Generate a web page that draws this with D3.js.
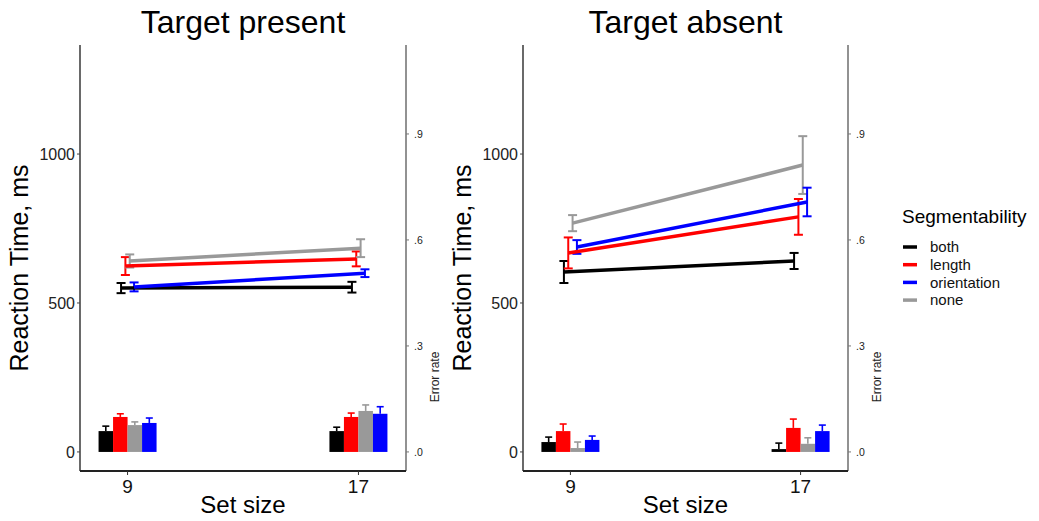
<!DOCTYPE html>
<html>
<head>
<meta charset="utf-8">
<script src="https://cdn.jsdelivr.net/npm/d3@7"></script>
<style>
  body { margin: 0; background: #fff; }
  text { font-family: "Liberation Sans", Arial, sans-serif; }
</style>
</head>
<body>
<div id="chart"></div>
<script>
"use strict";

// categories
var setSizes = ["9", "17"];
var groups = ["both", "length", "none", "orientation"];   // dodge order
var legendOrder = ["both", "length", "orientation", "none"];
var colors = { both: "#000000", length: "#ff0000", orientation: "#0000ff", none: "#999999" };

var rtTicks = [0, 500, 1000];
var errTicks = [0, 0.3, 0.6, 0.9];
var errTickLabels = [".0", ".3", ".6", ".9"];

// reaction time means and SE, [set 9, set 17]
var presentRT = { both: [550, 553], length: [624, 648], none: [641, 684], orientation: [554, 600] };
var presentRTse = { both: [17, 18], length: [30, 25], none: [22, 30], orientation: [15, 13] };
var absentRT = { both: [604, 641], length: [668, 789], none: [768, 963], orientation: [688, 839] };
var absentRTse = { both: [37, 27], length: [52, 60], none: [27, 97], orientation: [23, 48] };

// error rates and SE, [set 9, set 17]
var presentErr = { both: [0.059, 0.059], length: [0.099, 0.099], none: [0.076, 0.116], orientation: [0.082, 0.108] };
var presentErrSe = { both: [0.014, 0.011], length: [0.009, 0.011], none: [0.009, 0.017], orientation: [0.014, 0.020] };
var absentErr = { both: [0.028, 0.008], length: [0.059, 0.068], none: [0.011, 0.023], orientation: [0.034, 0.059] };
var absentErrSe = { both: [0.014, 0.017], length: [0.020, 0.025], none: [0.017, 0.017], orientation: [0.011, 0.017] };

var width = 1039, height = 521;
var svg = d3.select("#chart").append("svg")
    .attr("width", width)
    .attr("height", height);

var plotTop = 45, plotBottom = 471;
var rtDomain = [-64, 1366];
var errRatio = 1186;   // ms per unit of error rate on the secondary axis

function drawPanel(x0, x1, title, rt, rtSe, err, errSe) {
    var g = svg.append("g");

    var xScale = d3.scalePoint().domain(setSizes).range([x0, x1]).padding(0.206);
    var yScale = d3.scaleLinear().domain(rtDomain).range([plotBottom, plotTop]);
    var eScale = d3.scaleLinear().domain([rtDomain[0] / errRatio, rtDomain[1] / errRatio]).range([plotBottom, plotTop]);

    var barBand = d3.scaleBand().domain(groups).range([-29, 29]);
    var lineDodge = d3.scalePoint().domain(groups).range([-6.5, 6.5]);

    // bars for error rate
    setSizes.forEach(function (s, i) {
        groups.forEach(function (grp) {
            var bx = xScale(s) + barBand(grp);
            var bw = barBand.bandwidth();
            var v = err[grp][i], se = errSe[grp][i];
            var cx = bx + bw / 2;
            g.append("line")
                .attr("x1", cx).attr("x2", cx)
                .attr("y1", eScale(v)).attr("y2", eScale(v + se))
                .attr("stroke", colors[grp]).attr("stroke-width", 1.6);
            g.append("line")
                .attr("x1", cx - 3.5).attr("x2", cx + 3.5)
                .attr("y1", eScale(v + se)).attr("y2", eScale(v + se))
                .attr("stroke", colors[grp]).attr("stroke-width", 1.6);
            g.append("rect")
                .attr("x", bx).attr("width", bw)
                .attr("y", eScale(v)).attr("height", eScale(0) - eScale(v))
                .attr("fill", colors[grp]);
        });
    });

    // error bars for reaction time
    groups.forEach(function (grp) {
        setSizes.forEach(function (s, i) {
            var cx = xScale(s) + lineDodge(grp);
            var lo = yScale(rt[grp][i] - rtSe[grp][i]);
            var hi = yScale(rt[grp][i] + rtSe[grp][i]);
            g.append("line").attr("x1", cx).attr("x2", cx).attr("y1", lo).attr("y2", hi)
                .attr("stroke", colors[grp]).attr("stroke-width", 2);
            [lo, hi].forEach(function (yy) {
                g.append("line").attr("x1", cx - 4.5).attr("x2", cx + 4.5).attr("y1", yy).attr("y2", yy)
                    .attr("stroke", colors[grp]).attr("stroke-width", 2);
            });
        });
    });

    // lines
    var line = d3.line()
        .x(function (d) { return d.x; })
        .y(function (d) { return d.y; });
    groups.forEach(function (grp) {
        var pts = setSizes.map(function (s, i) {
            return { x: xScale(s) + lineDodge(grp), y: yScale(rt[grp][i]) };
        });
        g.append("path").datum(pts)
            .attr("d", line)
            .attr("fill", "none")
            .attr("stroke", colors[grp])
            .attr("stroke-width", 3.5);
    });

    // axes lines
    g.append("line").attr("x1", x0).attr("x2", x0).attr("y1", plotTop).attr("y2", plotBottom)
        .attr("stroke", "#444").attr("stroke-width", 1.6);
    g.append("line").attr("x1", x1).attr("x2", x1).attr("y1", plotTop).attr("y2", plotBottom)
        .attr("stroke", "#777").attr("stroke-width", 1.6);
    g.append("line").attr("x1", x0).attr("x2", x1).attr("y1", plotBottom).attr("y2", plotBottom)
        .attr("stroke", "#222").attr("stroke-width", 2);

    // left ticks
    rtTicks.forEach(function (t) {
        g.append("line").attr("x1", x0 - 3).attr("x2", x0).attr("y1", yScale(t)).attr("y2", yScale(t))
            .attr("stroke", "#444").attr("stroke-width", 1);
        g.append("text").attr("x", x0 - 5).attr("y", yScale(t)).attr("dy", "0.35em")
            .attr("text-anchor", "end").attr("font-size", 16).attr("fill", "#222").text(t);
    });

    // right ticks (error rate)
    errTicks.forEach(function (t, i) {
        g.append("line").attr("x1", x1).attr("x2", x1 + 3).attr("y1", eScale(t)).attr("y2", eScale(t))
            .attr("stroke", "#777").attr("stroke-width", 1);
        g.append("text").attr("x", x1 + 8).attr("y", eScale(t)).attr("dy", "0.35em")
            .attr("font-size", 10.5).attr("fill", "#222").text(errTickLabels[i]);
    });
    g.append("text")
        .attr("transform", "translate(" + (x1 + 33) + ",377) rotate(-90)")
        .attr("text-anchor", "middle").attr("font-size", 12).attr("fill", "#222")
        .text("Error rate");

    // x ticks
    setSizes.forEach(function (s) {
        g.append("line").attr("x1", xScale(s)).attr("x2", xScale(s)).attr("y1", plotBottom).attr("y2", plotBottom + 4)
            .attr("stroke", "#333").attr("stroke-width", 1);
        g.append("text").attr("x", xScale(s)).attr("y", plotBottom + 22)
            .attr("text-anchor", "middle").attr("font-size", 19).attr("fill", "#111").text(s);
    });

    // axis titles
    g.append("text").attr("x", (x0 + x1) / 2).attr("y", 513)
        .attr("text-anchor", "middle").attr("font-size", 24).attr("fill", "#000").text("Set size");
    g.append("text")
        .attr("transform", "translate(" + (x0 - 52) + "," + ((plotTop + plotBottom) / 2 + 10) + ") rotate(-90)")
        .attr("text-anchor", "middle").attr("font-size", 25).attr("fill", "#000")
        .text("Reaction Time, ms");

    // panel title
    g.append("text").attr("x", (x0 + x1) / 2).attr("y", 33)
        .attr("text-anchor", "middle").attr("font-size", 32).attr("fill", "#000").text(title);
}

drawPanel(80, 406, "Target present", presentRT, presentRTse, presentErr, presentErrSe);
drawPanel(523, 848, "Target absent", absentRT, absentRTse, absentErr, absentErrSe);

// legend
var legend = svg.append("g");
legend.append("text").attr("x", 902).attr("y", 223)
    .attr("font-size", 19).attr("fill", "#000").text("Segmentability");
legendOrder.forEach(function (grp, i) {
    var yy = 247 + i * 17.7;
    legend.append("line").attr("x1", 903).attr("x2", 917).attr("y1", yy).attr("y2", yy)
        .attr("stroke", colors[grp]).attr("stroke-width", 3.5);
    legend.append("text").attr("x", 930).attr("y", yy).attr("dy", "0.35em")
        .attr("font-size", 15).attr("fill", "#111").text(grp);
});
</script>
</body>
</html>
